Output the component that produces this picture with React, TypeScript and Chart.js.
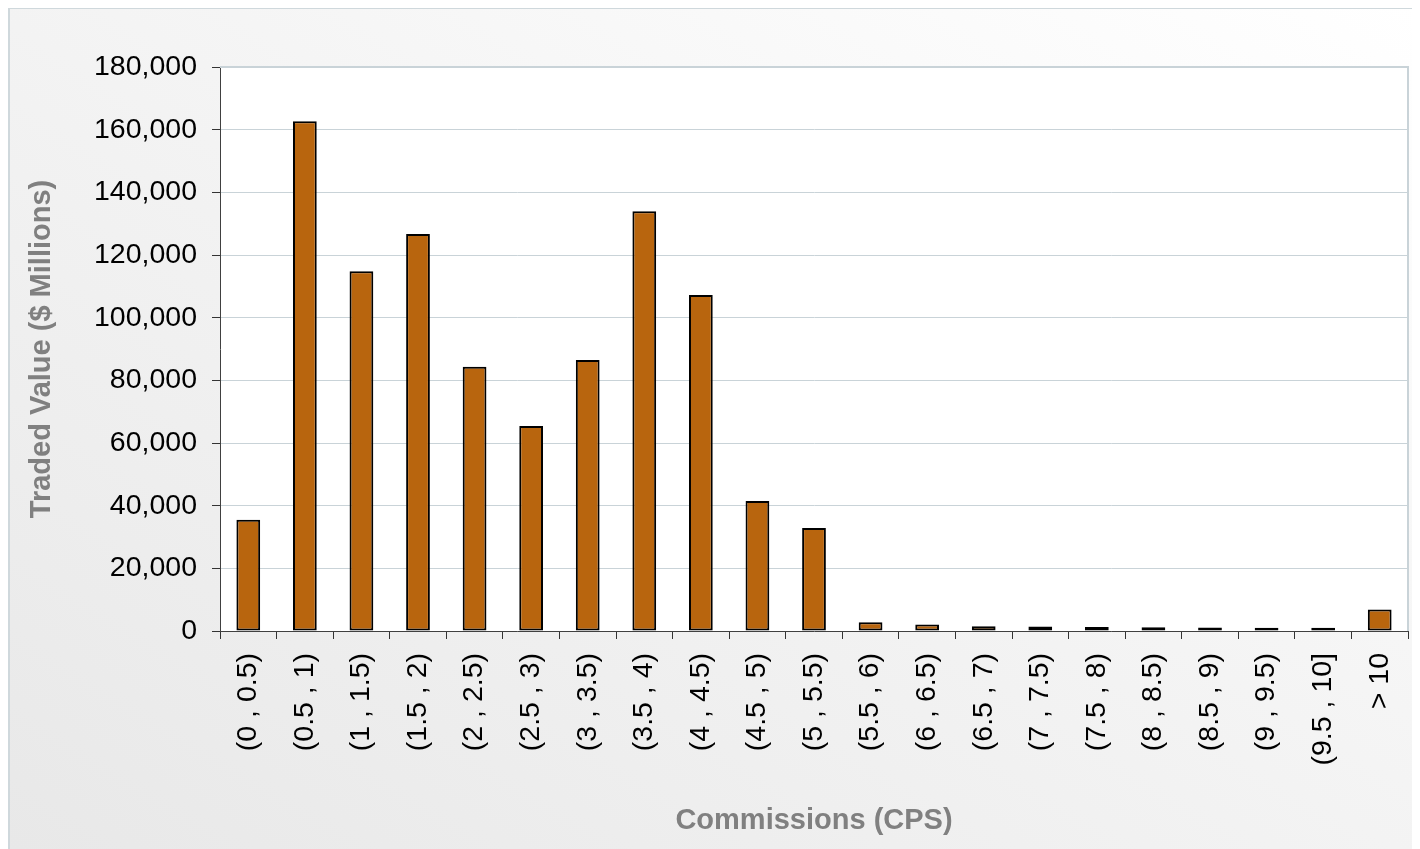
import React, { useEffect, useRef } from "react";
import { Chart, registerables } from "chart.js";

Chart.register(...registerables);

const categories = [
  "(0 , 0.5)", "(0.5 , 1)", "(1 , 1.5)", "(1.5 , 2)", "(2 , 2.5)", "(2.5 , 3)",
  "(3 , 3.5)", "(3.5 , 4)", "(4 , 4.5)", "(4.5 , 5)", "(5 , 5.5)", "(5.5 , 6)",
  "(6 , 6.5)", "(6.5 , 7)", "(7 , 7.5)", "(7.5 , 8)", "(8 , 8.5)", "(8.5 , 9)",
  "(9 , 9.5)", "(9.5 , 10]", "> 10",
];

const tradedValue = [
  35500, 162700, 114800, 126700, 84300, 65400, 86500, 134000, 107200, 41500,
  32900, 2800, 2100, 1500, 1400, 1300, 1200, 1100, 1000, 1000, 6900,
];

const yMin = 0;
const yMax = 180000;
const yStep = 20000;

const FONT = "'Liberation Sans', Arial, Helvetica, sans-serif";

const plotAreaPlugin = {
  id: "plotArea",
  beforeDraw(chart: any) {
    const { ctx, chartArea } = chart;
    ctx.save();
    ctx.fillStyle = "#ffffff";
    ctx.fillRect(chartArea.left, chartArea.top, chartArea.right - chartArea.left, chartArea.bottom - chartArea.top);
    ctx.restore();
  },
  afterDraw(chart: any) {
    const { ctx, chartArea } = chart;
    ctx.save();
    ctx.strokeStyle = "#c9d3d8";
    ctx.lineWidth = 2;
    ctx.beginPath();
    ctx.moveTo(chartArea.left, chartArea.top);
    ctx.lineTo(chartArea.right, chartArea.top);
    ctx.lineTo(chartArea.right, chartArea.bottom);
    ctx.stroke();
    ctx.restore();
  },
};

export default function App() {
  const ref = useRef<HTMLCanvasElement | null>(null);

  useEffect(() => {
    if (!ref.current) return;
    const chart = new Chart(ref.current, {
      type: "bar",
      data: {
        labels: categories,
        datasets: [
          {
            label: "Traded Value",
            data: tradedValue,
            backgroundColor: "#b8650e",
            borderColor: "#000000",
            borderWidth: 2,
            borderSkipped: false,
            categoryPercentage: 1,
            barPercentage: 0.42,
          },
        ],
      },
      options: {
        animation: false,
        responsive: false,
        maintainAspectRatio: false,
        layout: { padding: { left: 0, top: 60, right: 12, bottom: 0 } },
        plugins: { legend: { display: false }, tooltip: { enabled: false } },
        scales: {
          x: {
            afterFit(scale: any) {
              scale.height = 218;
              scale.paddingRight = 0;
              scale.paddingLeft = 0;
            },
            grid: {
              display: true,
              drawOnChartArea: false,
              offset: true,
              tickLength: 8,
              tickColor: "#333333",
              lineWidth: 1,
            },
            border: { display: true, color: "#404040", width: 1 },
            ticks: {
              color: "#000000",
              font: { family: FONT, size: 28.5 },
              maxRotation: 90,
              minRotation: 90,
              padding: 14,
              autoSkip: false,
            },
            title: {
              display: true,
              text: "Commissions (CPS)",
              color: "#808080",
              font: { family: FONT, size: 29, weight: "bold" },
              padding: { top: 0, bottom: 11 },
            },
          },
          y: {
            min: yMin,
            max: yMax,
            afterFit(scale: any) {
              scale.width = 212;
              scale.paddingTop = 0;
              scale.paddingBottom = 0;
            },
            grid: {
              color: "#c9d3d8",
              lineWidth: 1,
              tickLength: 8,
              tickColor: "#333333",
            },
            border: { display: true, color: "#404040", width: 1 },
            ticks: {
              stepSize: yStep,
              color: "#000000",
              font: { family: FONT, size: 28.5 },
              padding: 15,
              callback: (v: any) => Number(v).toLocaleString("en-US"),
            },
            title: {
              display: true,
              text: "Traded Value ($ Millions)",
              color: "#808080",
              font: { family: FONT, size: 29, weight: "bold" },
              padding: { top: 17, bottom: 0 },
            },
          },
        },
      },
      plugins: [plotAreaPlugin],
    });
    return () => chart.destroy();
  }, []);

  return (
    <div
      style={{
        position: "relative",
        width: 1412,
        height: 842,
        marginTop: -1,
        boxSizing: "border-box",
        borderTop: "2px solid #cfd8dc",
        borderLeft: "2px solid #cfd8dc",
        background: "linear-gradient(to top right, #e8e8e8 0%, #f2f2f2 45%, #ffffff 100%)",
        overflow: "hidden",
      }}
    >
      <canvas
        ref={ref}
        width={1412}
        height={842}
        style={{ position: "absolute", left: -2, top: -2, width: 1412, height: 842 }}
      />
    </div>
  );
}
